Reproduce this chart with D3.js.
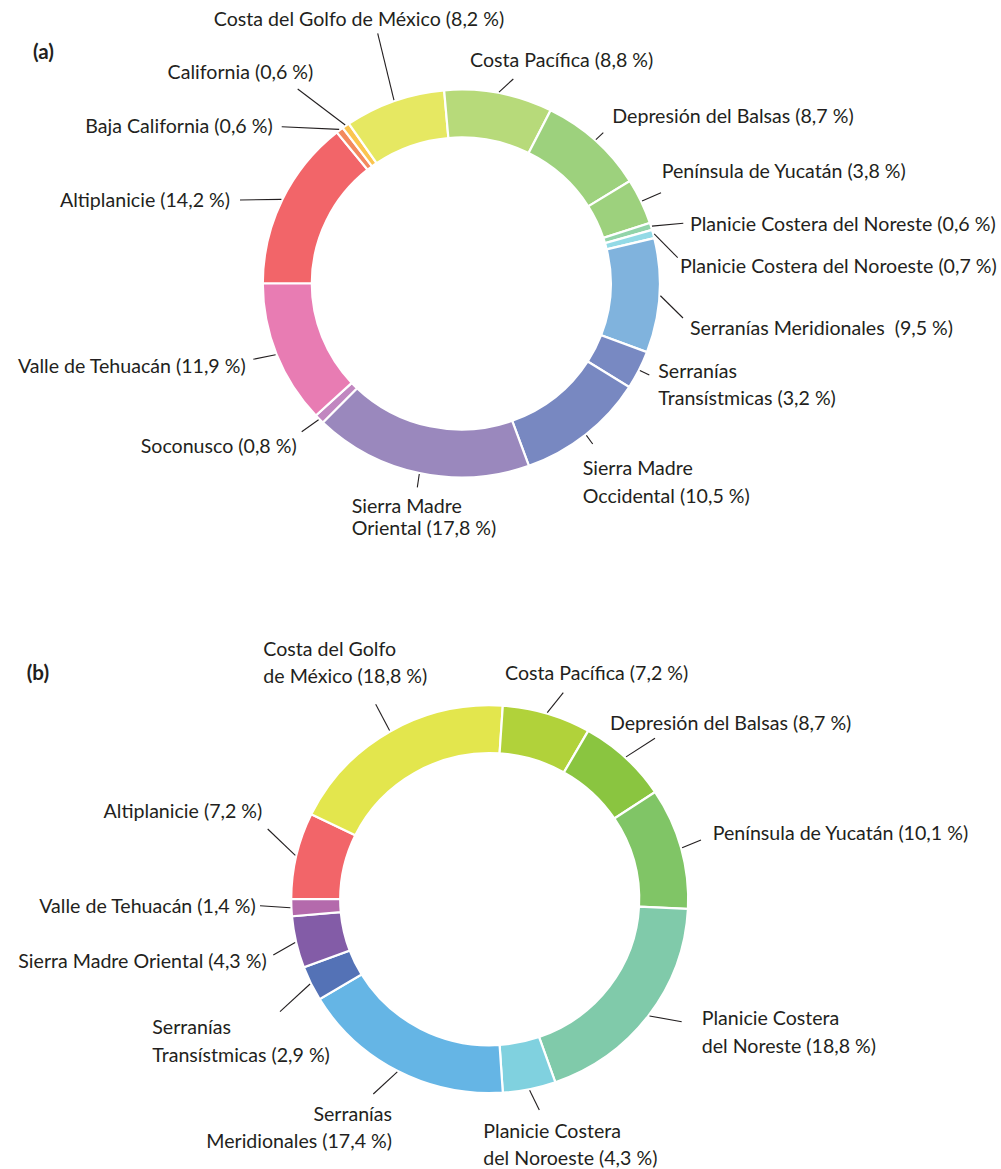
<!DOCTYPE html>
<html><head><meta charset="utf-8">
<script src="https://cdn.jsdelivr.net/npm/d3@7"></script>
<style>
html,body{margin:0;padding:0;background:#fff;}
svg{display:block;}
text{font-family:Lato, sans-serif; fill:#231f20;}
</style></head><body>
<svg id="chart" width="1001" height="1169"></svg>
<script>
// ---------- data (a) ----------
const categoriesA = ["Altiplanicie","Baja California","California","Costa del Golfo de México","Costa Pacífica","Depresión del Balsas","Península de Yucatán","Planicie Costera del Noreste","Planicie Costera del Noroeste","Serranías Meridionales","Serranías Transístmicas","Sierra Madre Occidental","Sierra Madre Oriental","Soconusco","Valle de Tehuacán"];
const valuesA = [14.2,0.6,0.6,8.2,8.8,8.7,3.8,0.6,0.7,9.5,3.2,10.5,17.8,0.8,11.9];
const colorsA = ["#f26569","#f38a5e","#fbc54f","#e6e862","#b7da7a","#9dd17d","#9dd17d","#92d4a9","#93dae6","#80b3dd","#7889c2","#7888c1","#9a88bd","#c187c0","#e87cb3"];

// ---------- data (b) ----------
const categoriesB = ["Altiplanicie","Costa del Golfo de México","Costa Pacífica","Depresión del Balsas","Península de Yucatán","Planicie Costera del Noreste","Planicie Costera del Noroeste","Serranías Meridionales","Serranías Transístmicas","Sierra Madre Oriental","Valle de Tehuacán"];
const labelValuesB = [7.2,18.8,7.2,8.7,10.1,18.8,4.3,17.4,2.9,4.3,1.4];   // as printed
const valuesB = [7.2,18.8,7.2,7.4,10.1,18.8,4.3,17.4,2.9,4.3,1.4];        // as drawn (Depresión arc is ~7.4)
const colorsB = ["#f26569","#e3e64d","#b1d23a","#8ac540","#80c566","#80caaa","#80d1df","#65b5e5","#5472b6","#835ca7","#b46aac"];

// ---------- label layout ----------
const layoutA = {
  "Altiplanicie":                 {x:230,   y:[206.7], a:"end",   lines:["Altiplanicie"], e:[240,200]},
  "Baja California":              {x:272.7, y:[132.7], a:"end",   lines:["Baja California"], e:[281.7,126.7]},
  "California":                   {x:313.3, y:[79.3],  a:"end",   lines:["California"], e:[297.7,89]},
  "Costa del Golfo de México":    {x:359,   y:[26],    a:"middle",lines:["Costa del Golfo de México"], e:[377.7,33.3]},
  "Costa Pacífica":               {x:470,   y:[66.7],  a:"start", lines:["Costa Pacífica"], e:[513.3,79]},
  "Depresión del Balsas":         {x:612.3, y:[123.3], a:"start", lines:["Depresión del Balsas"], e:[603.3,132.7]},
  "Península de Yucatán":         {x:661.7, y:[178.3], a:"start", lines:["Península de Yucatán"], e:[661,192.7]},
  "Planicie Costera del Noreste": {x:690,   y:[230.7], a:"start", lines:["Planicie Costera del Noreste"], e:[683.3,223.3]},
  "Planicie Costera del Noroeste":{x:680,   y:[272.7], a:"start", lines:["Planicie Costera del Noroeste"], e:[677.7,257.7]},
  "Serranías Meridionales":       {x:690,   y:[335],   a:"start", lines:["Serranías Meridionales\u00a0"], e:[683,318]},
  "Serranías Transístmicas":      {x:658.3, y:[378.3,405], a:"start", lines:["Serranías","Transístmicas"], e:[649.3,375]},
  "Sierra Madre Occidental":      {x:582.7, y:[475,502.7], a:"start", lines:["Sierra Madre","Occidental"], e:[592.7,444]},
  "Sierra Madre Oriental":        {x:351.7, y:[512.5,534.5], a:"start", lines:["Sierra Madre","Oriental"], e:[417.3,487.3]},
  "Soconusco":                    {x:296.7, y:[452.7], a:"end",   lines:["Soconusco"], e:[301.7,431.7]},
  "Valle de Tehuacán":            {x:245.7, y:[372.7], a:"end",   lines:["Valle de Tehuacán"], e:[253.3,359.3]}
};
const layoutB = {
  "Altiplanicie":                 {x:262.3, y:[817.7], a:"end",   lines:["Altiplanicie"], e:[267.7,829]},
  "Costa del Golfo de México":    {x:263.3, y:[655.7,683.3], a:"start", lines:["Costa del Golfo","de México"], e:[375.7,704.3]},
  "Costa Pacífica":               {x:505,   y:[680],   a:"start", lines:["Costa Pacífica"], e:[563.3,692.7]},
  "Depresión del Balsas":         {x:610,   y:[730],   a:"start", lines:["Depresión del Balsas"], e:[655,738.3]},
  "Península de Yucatán":         {x:712.7, y:[840],   a:"start", lines:["Península de Yucatán"], e:[701,840]},
  "Planicie Costera del Noreste": {x:701.7, y:[1025,1053.3], a:"start", lines:["Planicie Costera","del Noreste"], e:[681.7,1021.7]},
  "Planicie Costera del Noroeste":{x:483.3, y:[1137.7,1165], a:"start", lines:["Planicie Costera","del Noroeste"], e:[539.3,1110]},
  "Serranías Meridionales":       {x:392,   y:[1120.7,1148.3], a:"end", lines:["Serranías","Meridionales"], e:[373.3,1094]},
  "Serranías Transístmicas":      {x:152.3, y:[1034.3,1062.3], a:"start", lines:["Serranías","Transístmicas"], e:[280,1011.7]},
  "Sierra Madre Oriental":        {x:266.7, y:[968.3], a:"end",   lines:["Sierra Madre Oriental"], e:[273.3,955]},
  "Valle de Tehuacán":            {x:255.7, y:[912.7], a:"end",   lines:["Valle de Tehuacán"], e:[260,905.7]}
};

const FONT_SIZE = 19.6;
const svg = d3.select("#chart");
const fmt = v => String(v).replace(".", ",");

function donut(opts){
  const {cats, vals, printed, colors, layout, cx, cy, R, r, sy, tag, tagPos} = opts;
  const data = cats.map((c,i)=>({cat:c, v:vals[i], p:printed[i], col:colors[i]}));
  const pie = d3.pie().sort(null).value(d=>d.v).startAngle(-Math.PI/2).endAngle(3*Math.PI/2);
  const arcs = pie(data);
  const arc = d3.arc().innerRadius(r).outerRadius(R);
  const g = svg.append("g").attr("transform",`translate(${cx},${cy}) scale(1,${sy})`);
  g.selectAll("path").data(arcs).join("path")
    .attr("d", arc).attr("fill", d=>d.data.col)
    .attr("stroke","#fff").attr("stroke-width",2.2).attr("vector-effect","non-scaling-stroke");

  const lg = svg.append("g");
  arcs.forEach(a=>{
    const L = layout[a.data.cat];
    const th = (a.startAngle + a.endAngle)/2;
    const x0 = cx + (R+1)*Math.sin(th), y0 = cy - (R+1)*Math.cos(th)*sy;
    lg.append("line").attr("x1",x0).attr("y1",y0).attr("x2",L.e[0]).attr("y2",L.e[1])
      .attr("stroke","#231f20").attr("stroke-width",1.1);
    const t = lg.append("text").attr("text-anchor",L.a).attr("font-size",FONT_SIZE);
    L.lines.forEach((ln,i)=>{
      const last = i===L.lines.length-1;
      t.append("tspan").attr("x",L.x).attr("y",L.y[i])
        .text(last ? `${ln} (${fmt(a.data.p)} %)` : ln);
    });
  });
  svg.append("text").attr("x",tagPos[0]).attr("y",tagPos[1]).attr("font-size",FONT_SIZE+1)
    .attr("font-weight","bold").text(tag);
}

donut({cats:categoriesA, vals:valuesA, printed:valuesA, colors:colorsA, layout:layoutA,
  cx:461.3, cy:283.5, R:198.5, r:149.5, sy:0.977, tag:"(a)", tagPos:[33,59]});
donut({cats:categoriesB, vals:valuesB, printed:labelValuesB, colors:colorsB, layout:layoutB,
  cx:489.7, cy:899.2, R:198.5, r:149.5, sy:0.977, tag:"(b)", tagPos:[26.7,680]});
</script>
</body></html>
